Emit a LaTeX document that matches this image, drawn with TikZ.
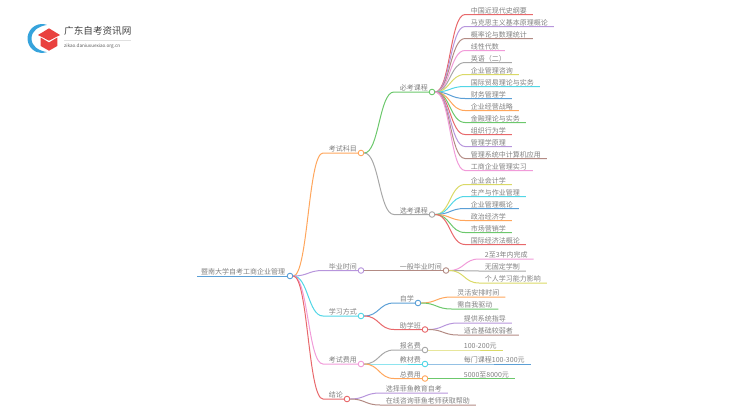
\documentclass[tikz,border=0pt]{standalone}
\usepackage{fontspec}
\setmainfont{Noto Sans CJK SC}
\usepackage{tikz}
\usetikzlibrary{calc}
\definecolor{cblue}{HTML}{5B9FD6}
\definecolor{corange}{HTML}{FFA65C}
\definecolor{cpurple}{HTML}{B795DC}
\definecolor{ccyan}{HTML}{52D6E6}
\definecolor{cpink}{HTML}{F19BD9}
\definecolor{cred}{HTML}{E8686B}
\definecolor{cgreen}{HTML}{6CC86C}
\definecolor{cgrey}{HTML}{A8A8A8}
\definecolor{cbrown}{HTML}{B38B84}
\definecolor{colive}{HTML}{DAD966}
\definecolor{ctext}{HTML}{808080}
\definecolor{clogoblue}{HTML}{36A3DC}
\definecolor{clogored}{HTML}{E9413F}
\tikzset{
  hub/.style={circle, draw=#1, fill=white, line width=0.9pt, inner sep=0pt, minimum size=5.6pt},
  label/.style={anchor=south west, font=\fontsize{7}{7}\selectfont, text=ctext, inner xsep=5.7pt,
    inner ysep=0.2pt, text height=6pt, text depth=0.8pt},
  link/.style={line width=1pt, draw=#1},
  branch/.style={to path={let \p1=(\tikztostart), \p2=(\tikztotarget) in
    .. controls ({0.5*(\x1+\x2)},\y1) and ({0.5*(\x1+\x2)},\y2) .. (\tikztotarget)}}
}
\begin{document}
\begin{tikzpicture}[x=1pt, y=-1pt]
\useasboundingbox (0, 0) rectangle (750, 410);

\node [hub=cblue] (root) at (290, 276) {};
\node [hub=corange] (ksky) at (361, 153) {};
\node [hub=cpurple] (bysj) at (361, 270.5) {};
\node [hub=ccyan] (xxfs) at (361, 316) {};
\node [hub=cpink] (ksfy) at (361, 364) {};
\node [hub=cred] (jl) at (347, 399) {};
\node [hub=cgreen] (bk) at (432, 92) {};
\node [hub=cgrey] (xk) at (432, 214.5) {};
\node [hub=cbrown] (ybsj) at (446, 270.5) {};
\node [hub=cblue] (zx) at (418, 303) {};
\node [hub=cred] (zxb) at (425, 329.5) {};
\node [hub=cgrey] (bmf) at (425, 350) {};
\node [hub=ccyan] (jcf) at (425, 364) {};
\node [hub=corange] (zfy) at (425, 378.5) {};

\node [label, inner xsep=4pt] (troot) at (197, 276) {暨南大学自考工商企业管理};
\draw [link=cblue] (troot.south west) -- (root.west);

\node [label] (tksky) at (323, 153) {考试科目};
\node [label] (tbysj) at (323, 270.5) {毕业时间};
\node [label] (txxfs) at (323, 316) {学习方式};
\node [label] (tksfy) at (323, 364) {考试费用};
\node [label] (tjl) at (323, 399) {结论};
\draw [link=corange] (root.east) to[branch] (tksky.south west) -- (ksky.west);
\draw [link=cpurple] (root.east) to[branch] (tbysj.south west) -- (bysj.west);
\draw [link=ccyan] (root.east) to[branch] (txxfs.south west) -- (xxfs.west);
\draw [link=cpink] (root.east) to[branch] (tksfy.south west) -- (ksfy.west);
\draw [link=cred] (root.east) to[branch] (tjl.south west) -- (jl.west);

\node [label] (tbk) at (394, 92) {必考课程};
\node [label] (txk) at (394, 214.5) {选考课程};
\draw [link=cgreen] (ksky.east) to[branch] (tbk.south west) -- (bk.west);
\draw [link=cgrey] (ksky.east) to[branch] (txk.south west) -- (xk.west);

\node [label] (tybsj) at (394, 270.5) {一般毕业时间};
\draw [link=cbrown] (bysj.east) to[branch] (tybsj.south west) -- (ybsj.west);

\node [label] (tzx) at (394, 303) {自学};
\node [label] (tzxb) at (394, 329.5) {助学班};
\draw [link=cblue] (xxfs.east) to[branch] (tzx.south west) -- (zx.west);
\draw [link=cred] (xxfs.east) to[branch] (tzxb.south west) -- (zxb.west);

\node [label] (tbmf) at (394, 350) {报名费};
\node [label] (tjcf) at (394, 364) {教材费};
\node [label] (tzfy) at (394, 378.5) {总费用};
\draw [link=cgrey] (ksfy.east) to[branch] (tbmf.south west) -- (bmf.west);
\draw [link=ccyan] (ksfy.east) to[branch] (tjcf.south west) -- (jcf.west);
\draw [link=corange] (ksfy.east) to[branch] (tzfy.south west) -- (zfy.west);

\node [label] (b1) at (465, 14.5) {中国近现代史纲要};
\node [label] (b2) at (465, 26.5) {马克思主义基本原理概论};
\node [label] (b3) at (465, 38.5) {概率论与数理统计};
\node [label] (b4) at (465, 50.5) {线性代数};
\node [label] (b5) at (465, 62.5) {英语（二）};
\node [label] (b6) at (465, 74.5) {企业管理咨询};
\node [label] (b7) at (465, 86.5) {国际贸易理论与实务};
\node [label] (b8) at (465, 98.5) {财务管理学};
\node [label] (b9) at (465, 110.5) {企业经营战略};
\node [label] (b10) at (465, 122.5) {金融理论与实务};
\node [label] (b11) at (465, 134.5) {组织行为学};
\node [label] (b12) at (465, 146.5) {管理学原理};
\node [label] (b13) at (465, 158.5) {管理系统中计算机应用};
\node [label] (b14) at (465, 170.5) {工商企业管理实习};
\draw [link=cred] (bk.east) to[branch] (b1.south west) -- (b1.south east);
\draw [link=cpurple] (bk.east) to[branch] (b2.south west) -- (b2.south east);
\draw [link=cbrown] (bk.east) to[branch] (b3.south west) -- (b3.south east);
\draw [link=cpink] (bk.east) to[branch] (b4.south west) -- (b4.south east);
\draw [link=cgrey] (bk.east) to[branch] (b5.south west) -- (b5.south east);
\draw [link=colive] (bk.east) to[branch] (b6.south west) -- (b6.south east);
\draw [link=ccyan] (bk.east) to[branch] (b7.south west) -- (b7.south east);
\draw [link=cblue] (bk.east) to[branch] (b8.south west) -- (b8.south east);
\draw [link=corange] (bk.east) to[branch] (b9.south west) -- (b9.south east);
\draw [link=cgreen] (bk.east) to[branch] (b10.south west) -- (b10.south east);
\draw [link=cred] (bk.east) to[branch] (b11.south west) -- (b11.south east);
\draw [link=cpurple] (bk.east) to[branch] (b12.south west) -- (b12.south east);
\draw [link=cbrown] (bk.east) to[branch] (b13.south west) -- (b13.south east);
\draw [link=cpink] (bk.east) to[branch] (b14.south west) -- (b14.south east);

\node [label] (x1) at (465, 184.5) {企业会计学};
\node [label] (x2) at (465, 196.5) {生产与作业管理};
\node [label] (x3) at (465, 208.5) {企业管理概论};
\node [label] (x4) at (465, 220.5) {政治经济学};
\node [label] (x5) at (465, 232.5) {市场营销学};
\node [label] (x6) at (465, 244.5) {国际经济法概论};
\draw [link=colive] (xk.east) to[branch] (x1.south west) -- (x1.south east);
\draw [link=ccyan] (xk.east) to[branch] (x2.south west) -- (x2.south east);
\draw [link=cblue] (xk.east) to[branch] (x3.south west) -- (x3.south east);
\draw [link=corange] (xk.east) to[branch] (x4.south west) -- (x4.south east);
\draw [link=cgreen] (xk.east) to[branch] (x5.south west) -- (x5.south east);
\draw [link=cred] (xk.east) to[branch] (x6.south west) -- (x6.south east);

\node [label] (y1) at (479, 259) {2至3年内完成};
\node [label] (y2) at (479, 271) {无固定学制};
\node [label] (y3) at (479, 283) {个人学习能力影响};
\draw [link=cpink] (ybsj.east) to[branch] (y1.south west) -- (y1.south east);
\draw [link=cgrey] (ybsj.east) to[branch] (y2.south west) -- (y2.south east);
\draw [link=colive] (ybsj.east) to[branch] (y3.south west) -- (y3.south east);

\node [label] (z1) at (451.5, 297) {灵活安排时间};
\node [label] (z2) at (451.5, 309) {需自我驱动};
\draw [link=corange] (zx.east) to[branch] (z1.south west) -- (z1.south east);
\draw [link=cgreen] (zx.east) to[branch] (z2.south west) -- (z2.south east);

\node [label] (c1) at (458, 323) {提供系统指导};
\node [label] (c2) at (458, 335) {适合基础较弱者};
\draw [link=cpurple] (zxb.east) to[branch] (c1.south west) -- (c1.south east);
\draw [link=cbrown] (zxb.east) to[branch] (c2.south west) -- (c2.south east);

\node [label] (f1) at (458, 350) {100-200元};
\node [label] (f2) at (458, 364) {每门课程100-300元};
\node [label] (f3) at (458, 378.5) {5000至8000元};
\draw [link=colive] (bmf.east) -- (f1.south west) -- (f1.south east);
\draw [link=cblue] (jcf.east) -- (f2.south west) -- (f2.south east);
\draw [link=cgreen] (zfy.east) -- (f3.south west) -- (f3.south east);

\node [label] (j1) at (380, 393) {选择菲鱼教育自考};
\node [label] (j2) at (380, 405) {在线咨询菲鱼老师获取帮助};
\draw [link=cpurple] (jl.east) to[branch] (j1.south west) -- (j1.south east);
\draw [link=cbrown] (jl.east) to[branch] (j2.south west) -- (j2.south east);

\fill [clogoblue] (47, 24.9) arc (-70:-290:14.5) .. controls (38, 50.5) and (31.5, 46) .. (31.5, 38.5) .. controls (31.5, 31) and (38, 26.5) .. (47, 24.9) -- cycle;
\fill [clogored] (49, 28.3) -- (60, 35) -- (49, 40.7) -- (38, 35) -- cycle;
\fill [clogored] (40.7, 37.5) -- (49, 42.5) -- (57.3, 37.5) -- (57.3, 46) -- (49, 50.7) -- (40.7, 46) -- cycle;
\node [font=\fontsize{9.6}{10}\selectfont, text=black!75, anchor=west, inner sep=0pt] (logot) at (64, 31) {广东自考资讯网};
\node [font=\fontsize{4.6}{5}\selectfont, text=black!65, anchor=west, inner sep=0pt] (logou) at (64, 46) {zikao.daniuxuexiao.org.cn};
\draw [black!12, line width=0.5pt] (logot.south west |- 0, 40) -- (131, 40);

\end{tikzpicture}
\end{document}
